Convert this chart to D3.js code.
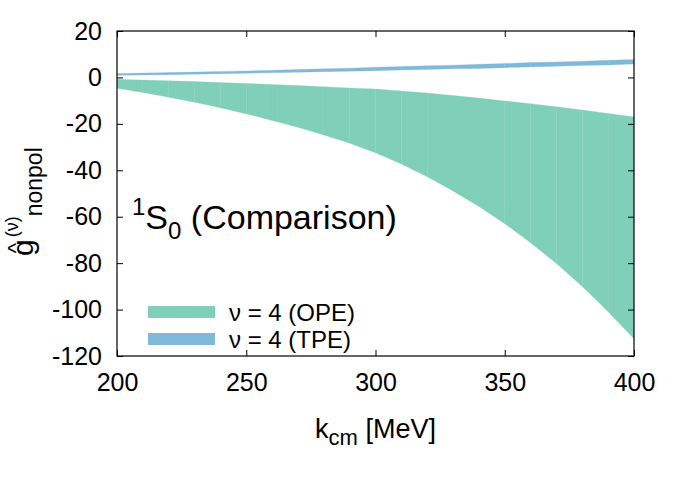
<!DOCTYPE html>
<meta charset="utf-8">
<style>
    body {
        margin: 0;
        background: #fff;
    }

    svg text {
        font-family: "Liberation Sans", Arial, Helvetica, sans-serif;
        fill: #000;
    }

    .axis .tick line {
        stroke: #000;
        stroke-width: 1;
    }

    .axis text {
        font-size: 25px;
    }
</style>

<body>
    <script src="https://cdn.jsdelivr.net/npm/d3@7"></script>
    <script>
        // momenta (MeV), every 10 MeV
        var kcm = [200, 210, 220, 230, 240, 250, 260, 270, 280, 290, 300,
            310, 320, 330, 340, 350, 360, 370, 380, 390, 400];

        // nu = 4 (OPE) band
        var opeLow = [-4.7, -6.5, -8.5, -10.7, -13.1, -15.7, -18.5, -21.5, -24.8, -28.4, -32.4,
            -37.3, -42.8, -48.9, -55.6, -63.0, -71.2, -80.2, -90.1, -100.9, -112.6];
        var opeHigh = [-0.8, -1.1, -1.4, -1.8, -2.2, -2.6, -3.0, -3.5, -4.0, -4.5, -5.0,
            -5.8, -6.7, -7.8, -8.9, -10.1, -11.3, -12.6, -14.0, -15.5, -17.0];

        // nu = 4 (TPE) band
        var tpeLow = [0.9, 1.0, 1.2, 1.4, 1.6, 1.8, 2.0, 2.2, 2.5, 2.7, 2.9,
            3.2, 3.4, 3.7, 3.9, 4.2, 4.5, 4.8, 5.1, 5.4, 5.8];
        var tpeHigh = [1.7, 1.9, 2.1, 2.3, 2.6, 2.8, 3.1, 3.4, 3.7, 4.0, 4.4,
            4.7, 5.0, 5.3, 5.7, 6.0, 6.4, 6.7, 7.0, 7.4, 7.7];

        var xTicks = [200, 250, 300, 350, 400];
        var yTicks = [-120, -100, -80, -60, -40, -20, 0, 20];

        var seriesNames = ["\u03bd = 4 (OPE)", "\u03bd = 4 (TPE)"];
        var seriesColors = ["#7fcfb9", "#7fb8d9"];

        var margin = {
                top: 31,
                right: 47,
                bottom: 121,
                left: 117
            },
            width = 681 - margin.left - margin.right,
            height = 477 - margin.top - margin.bottom;

        var x = d3.scaleLinear()
            .domain([200, 400])
            .range([0, width]);
        var y = d3.scaleLinear()
            .domain([-120, 20])
            .range([height, 0]);

        var svg = d3.select("body").append("svg")
            .attr("width", 681)
            .attr("height", 477)
            .append("g")
            .attr("transform", "translate(" + margin.left + "," + margin.top + ")");

        svg.append("clipPath")
            .attr("id", "plot-clip")
            .append("rect")
            .attr("width", width)
            .attr("height", height);

        var area = d3.area()
            .x(function(d) { return x(d.k); })
            .y0(function(d) { return y(d.lo); })
            .y1(function(d) { return y(d.hi); });

        function band(lo, hi) {
            return kcm.map(function(k, i) {
                return { k: k, lo: lo[i], hi: hi[i] };
            });
        }

        var bands = [band(opeLow, opeHigh), band(tpeLow, tpeHigh)];

        var plot = svg.append("g").attr("clip-path", "url(#plot-clip)");

        // each 10 MeV step is its own piece, like the original filledcurves
        bands.forEach(function(data, s) {
            var pieces = d3.range(data.length - 1).map(function(i) {
                return data.slice(i, i + 2);
            });
            plot.append("g").selectAll("path")
                .data(pieces)
                .enter().append("path")
                .attr("d", area)
                .style("fill", seriesColors[s])
                .style("stroke", seriesColors[s])
                .style("stroke-width", 0.25);
        });

        var plain = function(d) { return String(d); };

        // axes, ticks pointing inward, mirrored on top and right
        svg.append("g")
            .attr("class", "axis")
            .attr("transform", "translate(0," + height + ")")
            .call(d3.axisBottom(x).tickValues(xTicks).tickFormat(plain).tickSize(-6).tickPadding(17))
            .call(function(g) { g.select(".domain").remove(); });

        svg.append("g")
            .attr("class", "axis")
            .call(d3.axisLeft(y).tickValues(yTicks).tickFormat(plain).tickSize(-6).tickPadding(15))
            .call(function(g) { g.select(".domain").remove(); });

        svg.append("g")
            .attr("class", "axis")
            .call(d3.axisTop(x).tickValues(xTicks).tickSize(-6).tickFormat(""))
            .call(function(g) { g.select(".domain").remove(); });

        svg.append("g")
            .attr("class", "axis")
            .attr("transform", "translate(" + width + ",0)")
            .call(d3.axisRight(y).tickValues(yTicks).tickSize(-6).tickFormat(""))
            .call(function(g) { g.select(".domain").remove(); });

        svg.selectAll(".axis text").attr("font-family", null).attr("font-size", null);

        svg.append("rect")
            .attr("width", width)
            .attr("height", height)
            .style("fill", "none")
            .style("stroke", "#000")
            .style("stroke-width", 1.2);

        // x label
        var xl = svg.append("text")
            .attr("x", width / 2)
            .attr("y", height + 82)
            .attr("text-anchor", "middle")
            .style("font-size", "27px");
        xl.append("tspan").text("k");
        xl.append("tspan").attr("dy", 7).style("font-size", "22px").text("cm");
        xl.append("tspan").attr("dy", -7).text(" [MeV]");

        // y label
        var yl = svg.append("g")
            .attr("transform", "translate(" + (33 - margin.left) + "," + (256 - margin.top) + ") rotate(-90)");
        yl.append("text")
            .attr("x", 8)
            .attr("y", -10)
            .attr("text-anchor", "middle")
            .style("font-size", "22px")
            .text("^");
        var ylt = yl.append("text")
            .style("font-size", "30px");
        ylt.append("tspan").text("g");
        ylt.append("tspan").attr("dy", -15).attr("dx", 2).style("font-size", "18px").text("(\u03bd)");
        ylt.append("tspan").attr("dy", 24).style("font-size", "23px").text("nonpol");

        // channel label
        var tl = svg.append("text")
            .attr("x", 132 - margin.left)
            .attr("y", 229 - margin.top)
            .style("font-size", "34px");
        tl.append("tspan").attr("dy", -14).style("font-size", "24px").text("1");
        tl.append("tspan").attr("dy", 14).text("S");
        tl.append("tspan").attr("dy", 10).style("font-size", "24px").text("0");
        tl.append("tspan").attr("dy", -10).text(" (Comparison)");

        // legend
        var legend = svg.selectAll(".legend")
            .data(seriesNames)
            .enter().append("g")
            .attr("class", "legend")
            .attr("transform", function(d, i) {
                return "translate(0," + (312 - margin.top + i * 27) + ")";
            });

        legend.append("rect")
            .attr("x", 148 - margin.left)
            .attr("y", -6)
            .attr("width", 67)
            .attr("height", 12)
            .style("fill", function(d, i) { return seriesColors[i]; });

        legend.append("text")
            .attr("x", 229 - margin.left)
            .attr("y", 9)
            .style("font-size", "24px")
            .text(function(d) { return d; });
    </script>
</body>
